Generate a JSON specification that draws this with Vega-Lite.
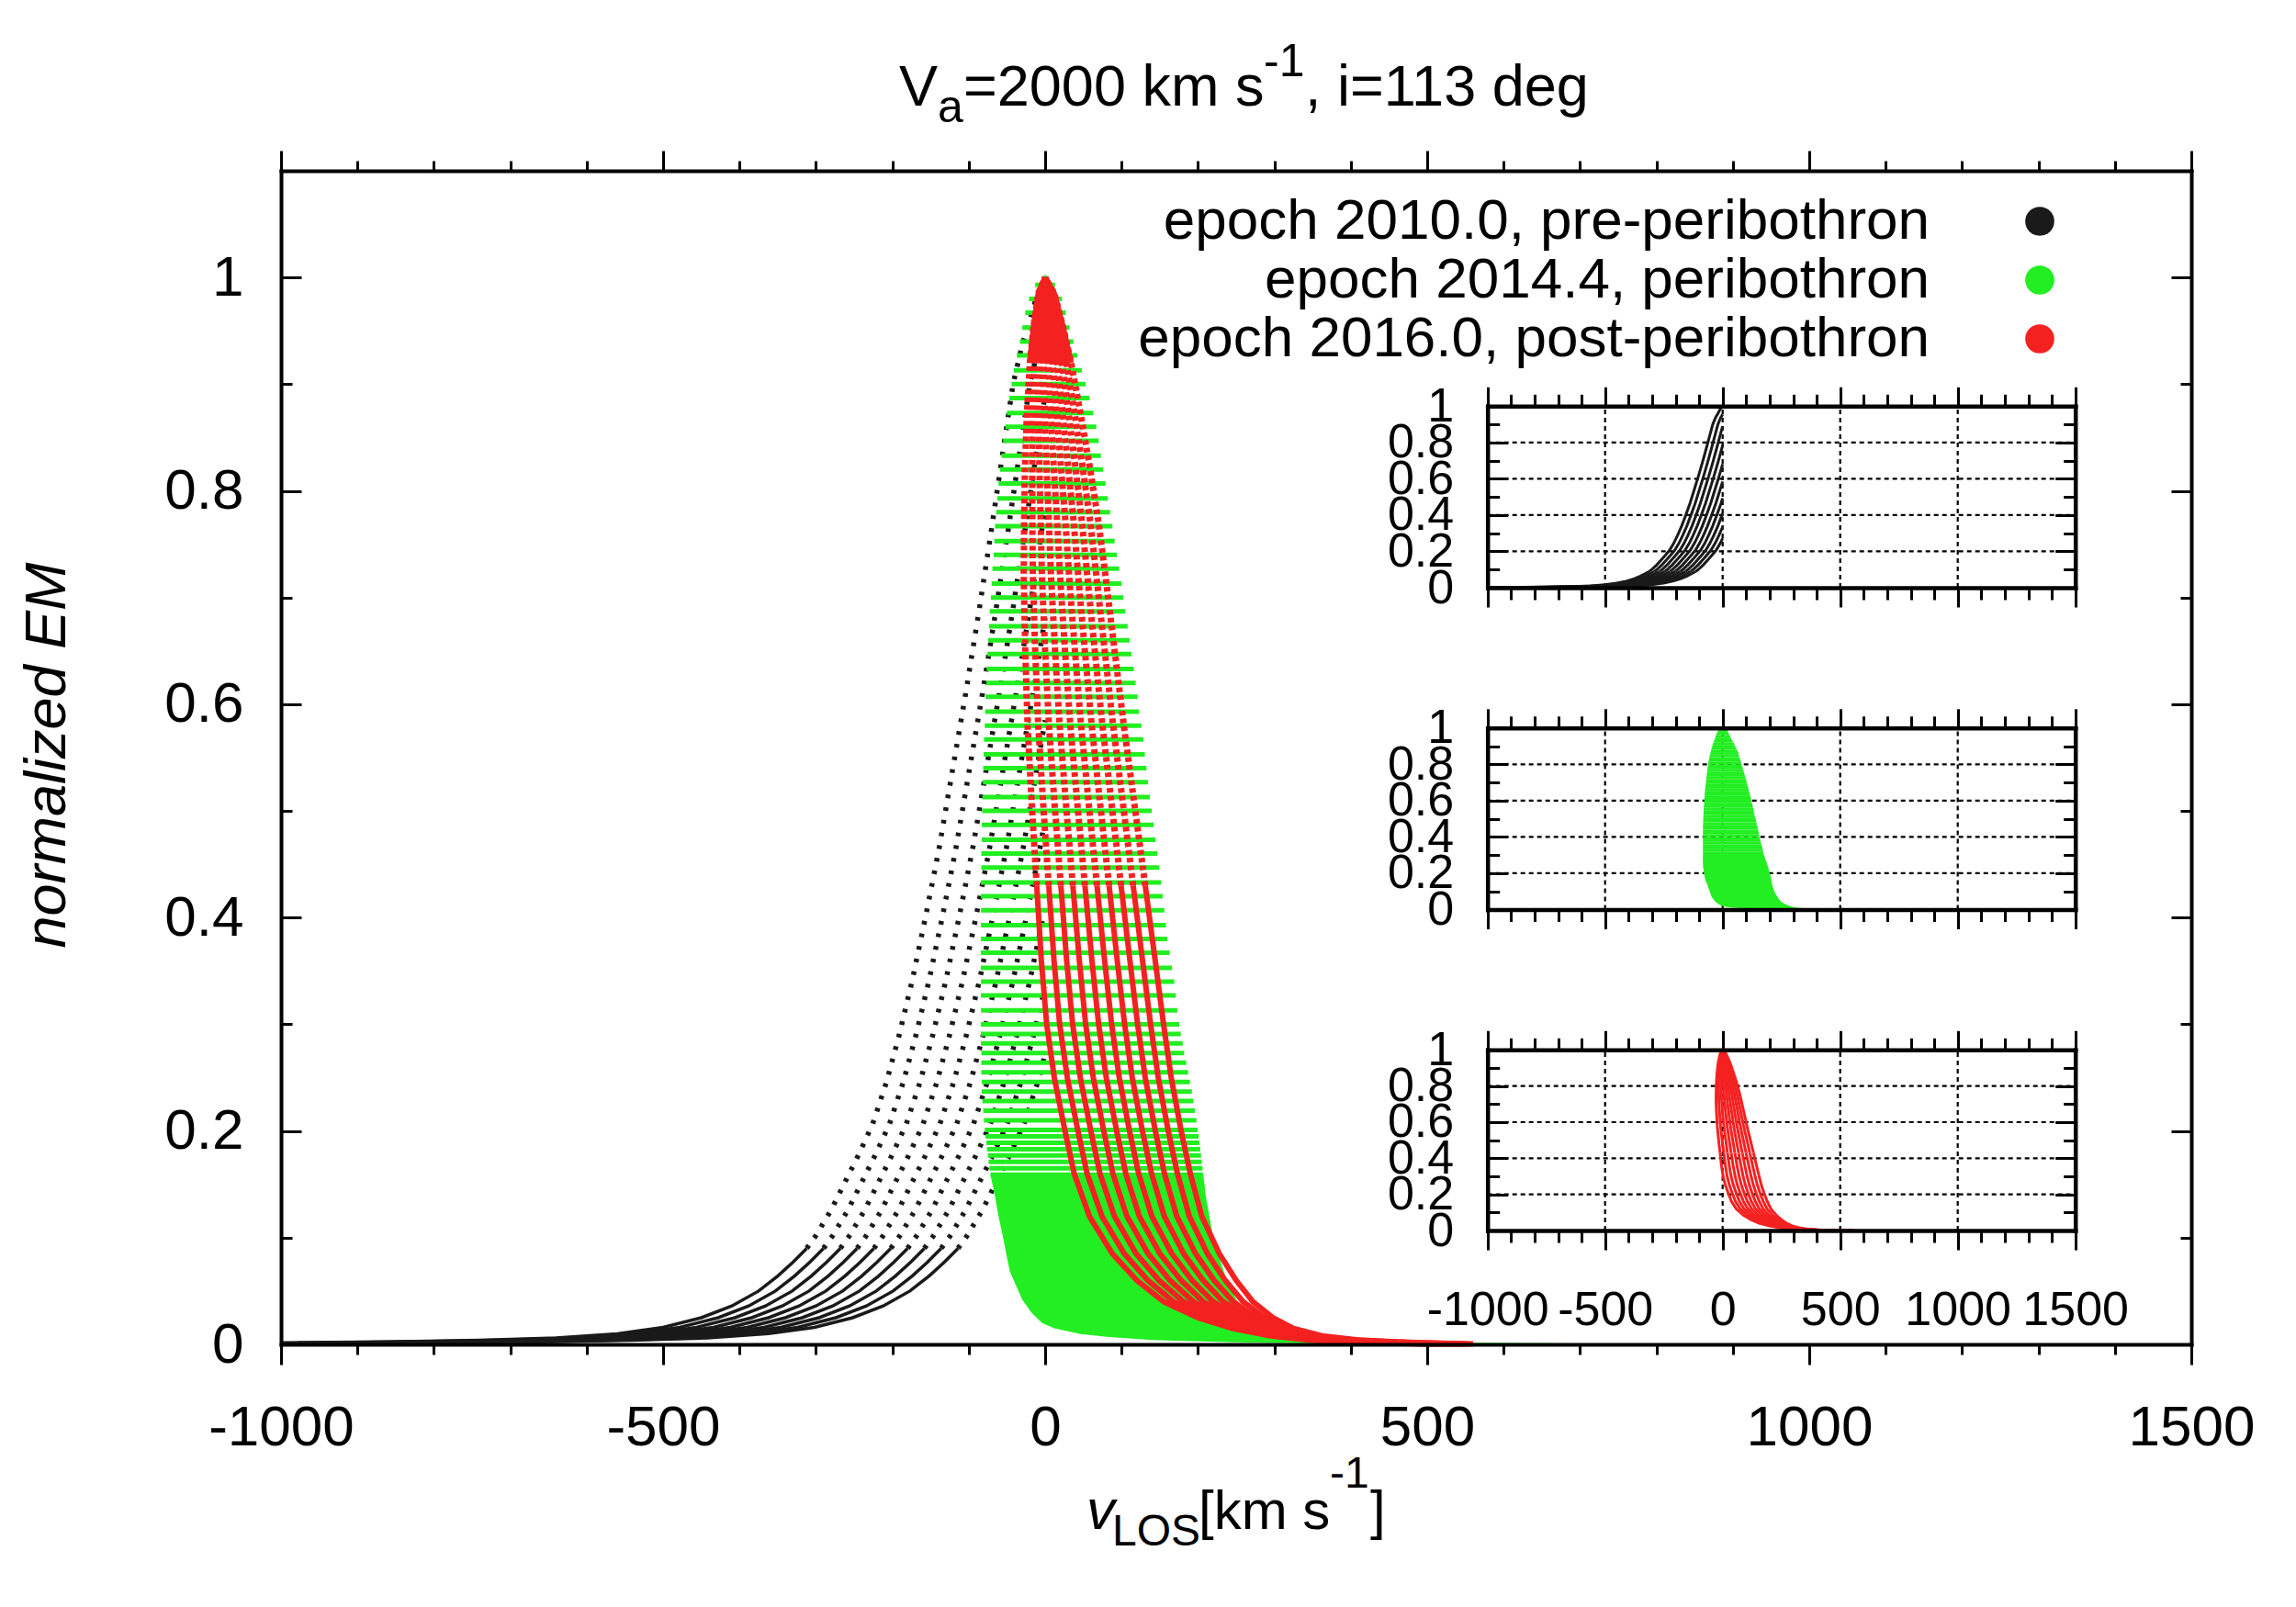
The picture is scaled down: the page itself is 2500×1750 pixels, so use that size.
{
  "$schema": "https://vega.github.io/schema/vega-lite/v6.json",
  "width": 2080,
  "height": 1278,
  "autosize": {"type": "none"},
  "padding": {"left": 306, "top": 186, "right": 114, "bottom": 286},
  "background": "white",
  "config": {
    "font": "Liberation Sans",
    "view": {"stroke": null},
    "axis": {"labelFont": "Liberation Sans", "labelColor": "black", "tickColor": "black", "domainColor": "black", "titleColor": "black", "titleFont": "Liberation Sans", "grid": false, "labelFlush": false, "labelOverlap": false, "labelBound": false, "domainCap": "square"}
  },
  "datasets": {
    "black": [
      {"c":0,"x":0,"y":1},{"c":0,"x":-10,"y":0.985},{"c":0,"x":-20,"y":0.96},{"c":0,"x":-30,"y":0.937},{"c":0,"x":-42,"y":0.9},{"c":0,"x":-55,"y":0.838},{"c":0,"x":-70,"y":0.765},{"c":0,"x":-86,"y":0.69},{"c":0,"x":-104,"y":0.61},{"c":0,"x":-122,"y":0.535},{"c":0,"x":-139,"y":0.464},{"c":0,"x":-157,"y":0.399},{"c":0,"x":-174,"y":0.341},{"c":0,"x":-191,"y":0.29},{"c":0,"x":-208,"y":0.245},{"c":0,"x":-226,"y":0.206},{"c":0,"x":-244,"y":0.178},{"c":0,"x":-262,"y":0.152},{"c":0,"x":-280,"y":0.126},{"c":0,"x":-300,"y":0.102},{"c":0,"x":-312,"y":0.09},{"c":0,"x":-330,"y":0.077},{"c":0,"x":-350,"y":0.064},{"c":0,"x":-375,"y":0.05},{"c":0,"x":-410,"y":0.036},{"c":0,"x":-450,"y":0.025},{"c":0,"x":-500,"y":0.016},{"c":0,"x":-560,"y":0.01},{"c":0,"x":-640,"y":0.006},{"c":0,"x":-740,"y":0.0038},{"c":0,"x":-860,"y":0.0024},{"c":0,"x":-1000,"y":0.0015},
      {"c":1,"x":0,"y":0.955},{"c":1,"x":-8,"y":0.937},{"c":1,"x":-20,"y":0.9},{"c":1,"x":-33,"y":0.838},{"c":1,"x":-48,"y":0.765},{"c":1,"x":-64,"y":0.69},{"c":1,"x":-82,"y":0.61},{"c":1,"x":-100,"y":0.535},{"c":1,"x":-117,"y":0.464},{"c":1,"x":-135,"y":0.399},{"c":1,"x":-152,"y":0.341},{"c":1,"x":-169,"y":0.29},{"c":1,"x":-186,"y":0.245},{"c":1,"x":-204,"y":0.206},{"c":1,"x":-222,"y":0.178},{"c":1,"x":-240,"y":0.152},{"c":1,"x":-258,"y":0.126},{"c":1,"x":-278,"y":0.102},{"c":1,"x":-290,"y":0.09},{"c":1,"x":-308,"y":0.077},{"c":1,"x":-328,"y":0.064},{"c":1,"x":-353,"y":0.05},{"c":1,"x":-388,"y":0.036},{"c":1,"x":-428,"y":0.025},{"c":1,"x":-478,"y":0.016},{"c":1,"x":-538,"y":0.01},{"c":1,"x":-618,"y":0.006},{"c":1,"x":-718,"y":0.0038},{"c":1,"x":-838,"y":0.0024},{"c":1,"x":-978,"y":0.0015},
      {"c":2,"x":0,"y":0.89},{"c":2,"x":-11,"y":0.838},{"c":2,"x":-26,"y":0.765},{"c":2,"x":-42,"y":0.69},{"c":2,"x":-60,"y":0.61},{"c":2,"x":-78,"y":0.535},{"c":2,"x":-95,"y":0.464},{"c":2,"x":-113,"y":0.399},{"c":2,"x":-130,"y":0.341},{"c":2,"x":-147,"y":0.29},{"c":2,"x":-164,"y":0.245},{"c":2,"x":-182,"y":0.206},{"c":2,"x":-200,"y":0.178},{"c":2,"x":-218,"y":0.152},{"c":2,"x":-236,"y":0.126},{"c":2,"x":-256,"y":0.102},{"c":2,"x":-268,"y":0.09},{"c":2,"x":-286,"y":0.077},{"c":2,"x":-306,"y":0.064},{"c":2,"x":-331,"y":0.05},{"c":2,"x":-366,"y":0.036},{"c":2,"x":-406,"y":0.025},{"c":2,"x":-456,"y":0.016},{"c":2,"x":-516,"y":0.01},{"c":2,"x":-596,"y":0.006},{"c":2,"x":-696,"y":0.0038},{"c":2,"x":-816,"y":0.0024},{"c":2,"x":-956,"y":0.0015},
      {"c":3,"x":0,"y":0.784},{"c":3,"x":-4,"y":0.765},{"c":3,"x":-20,"y":0.69},{"c":3,"x":-38,"y":0.61},{"c":3,"x":-56,"y":0.535},{"c":3,"x":-73,"y":0.464},{"c":3,"x":-91,"y":0.399},{"c":3,"x":-108,"y":0.341},{"c":3,"x":-125,"y":0.29},{"c":3,"x":-142,"y":0.245},{"c":3,"x":-160,"y":0.206},{"c":3,"x":-178,"y":0.178},{"c":3,"x":-196,"y":0.152},{"c":3,"x":-214,"y":0.126},{"c":3,"x":-234,"y":0.102},{"c":3,"x":-246,"y":0.09},{"c":3,"x":-264,"y":0.077},{"c":3,"x":-284,"y":0.064},{"c":3,"x":-309,"y":0.05},{"c":3,"x":-344,"y":0.036},{"c":3,"x":-384,"y":0.025},{"c":3,"x":-434,"y":0.016},{"c":3,"x":-494,"y":0.01},{"c":3,"x":-574,"y":0.006},{"c":3,"x":-674,"y":0.0038},{"c":3,"x":-794,"y":0.0024},{"c":3,"x":-934,"y":0.0015},
      {"c":4,"x":0,"y":0.681},{"c":4,"x":-16,"y":0.61},{"c":4,"x":-34,"y":0.535},{"c":4,"x":-51,"y":0.464},{"c":4,"x":-69,"y":0.399},{"c":4,"x":-86,"y":0.341},{"c":4,"x":-103,"y":0.29},{"c":4,"x":-120,"y":0.245},{"c":4,"x":-138,"y":0.206},{"c":4,"x":-156,"y":0.178},{"c":4,"x":-174,"y":0.152},{"c":4,"x":-192,"y":0.126},{"c":4,"x":-212,"y":0.102},{"c":4,"x":-224,"y":0.09},{"c":4,"x":-242,"y":0.077},{"c":4,"x":-262,"y":0.064},{"c":4,"x":-287,"y":0.05},{"c":4,"x":-322,"y":0.036},{"c":4,"x":-362,"y":0.025},{"c":4,"x":-412,"y":0.016},{"c":4,"x":-472,"y":0.01},{"c":4,"x":-552,"y":0.006},{"c":4,"x":-652,"y":0.0038},{"c":4,"x":-772,"y":0.0024},{"c":4,"x":-912,"y":0.0015},
      {"c":5,"x":0,"y":0.585},{"c":5,"x":-12,"y":0.535},{"c":5,"x":-29,"y":0.464},{"c":5,"x":-47,"y":0.399},{"c":5,"x":-64,"y":0.341},{"c":5,"x":-81,"y":0.29},{"c":5,"x":-98,"y":0.245},{"c":5,"x":-116,"y":0.206},{"c":5,"x":-134,"y":0.178},{"c":5,"x":-152,"y":0.152},{"c":5,"x":-170,"y":0.126},{"c":5,"x":-190,"y":0.102},{"c":5,"x":-202,"y":0.09},{"c":5,"x":-220,"y":0.077},{"c":5,"x":-240,"y":0.064},{"c":5,"x":-265,"y":0.05},{"c":5,"x":-300,"y":0.036},{"c":5,"x":-340,"y":0.025},{"c":5,"x":-390,"y":0.016},{"c":5,"x":-450,"y":0.01},{"c":5,"x":-530,"y":0.006},{"c":5,"x":-630,"y":0.0038},{"c":5,"x":-750,"y":0.0024},{"c":5,"x":-890,"y":0.0015},
      {"c":6,"x":0,"y":0.493},{"c":6,"x":-7,"y":0.464},{"c":6,"x":-25,"y":0.399},{"c":6,"x":-42,"y":0.341},{"c":6,"x":-59,"y":0.29},{"c":6,"x":-76,"y":0.245},{"c":6,"x":-94,"y":0.206},{"c":6,"x":-112,"y":0.178},{"c":6,"x":-130,"y":0.152},{"c":6,"x":-148,"y":0.126},{"c":6,"x":-168,"y":0.102},{"c":6,"x":-180,"y":0.09},{"c":6,"x":-198,"y":0.077},{"c":6,"x":-218,"y":0.064},{"c":6,"x":-243,"y":0.05},{"c":6,"x":-278,"y":0.036},{"c":6,"x":-318,"y":0.025},{"c":6,"x":-368,"y":0.016},{"c":6,"x":-428,"y":0.01},{"c":6,"x":-508,"y":0.006},{"c":6,"x":-608,"y":0.0038},{"c":6,"x":-728,"y":0.0024},{"c":6,"x":-868,"y":0.0015},
      {"c":7,"x":0,"y":0.41},{"c":7,"x":-3,"y":0.399},{"c":7,"x":-20,"y":0.341},{"c":7,"x":-37,"y":0.29},{"c":7,"x":-54,"y":0.245},{"c":7,"x":-72,"y":0.206},{"c":7,"x":-90,"y":0.178},{"c":7,"x":-108,"y":0.152},{"c":7,"x":-126,"y":0.126},{"c":7,"x":-146,"y":0.102},{"c":7,"x":-158,"y":0.09},{"c":7,"x":-176,"y":0.077},{"c":7,"x":-196,"y":0.064},{"c":7,"x":-221,"y":0.05},{"c":7,"x":-256,"y":0.036},{"c":7,"x":-296,"y":0.025},{"c":7,"x":-346,"y":0.016},{"c":7,"x":-406,"y":0.01},{"c":7,"x":-486,"y":0.006},{"c":7,"x":-586,"y":0.0038},{"c":7,"x":-706,"y":0.0024},{"c":7,"x":-846,"y":0.0015},
      {"c":8,"x":0,"y":0.335},{"c":8,"x":-15,"y":0.29},{"c":8,"x":-32,"y":0.245},{"c":8,"x":-50,"y":0.206},{"c":8,"x":-68,"y":0.178},{"c":8,"x":-86,"y":0.152},{"c":8,"x":-104,"y":0.126},{"c":8,"x":-124,"y":0.102},{"c":8,"x":-136,"y":0.09},{"c":8,"x":-154,"y":0.077},{"c":8,"x":-174,"y":0.064},{"c":8,"x":-199,"y":0.05},{"c":8,"x":-234,"y":0.036},{"c":8,"x":-274,"y":0.025},{"c":8,"x":-324,"y":0.016},{"c":8,"x":-384,"y":0.01},{"c":8,"x":-464,"y":0.006},{"c":8,"x":-564,"y":0.0038},{"c":8,"x":-684,"y":0.0024},{"c":8,"x":-824,"y":0.0015},
      {"c":9,"x":0,"y":0.272},{"c":9,"x":-10,"y":0.245},{"c":9,"x":-28,"y":0.206},{"c":9,"x":-46,"y":0.178},{"c":9,"x":-64,"y":0.152},{"c":9,"x":-82,"y":0.126},{"c":9,"x":-102,"y":0.102},{"c":9,"x":-114,"y":0.09},{"c":9,"x":-132,"y":0.077},{"c":9,"x":-152,"y":0.064},{"c":9,"x":-177,"y":0.05},{"c":9,"x":-212,"y":0.036},{"c":9,"x":-252,"y":0.025},{"c":9,"x":-302,"y":0.016},{"c":9,"x":-362,"y":0.01},{"c":9,"x":-442,"y":0.006},{"c":9,"x":-542,"y":0.0038},{"c":9,"x":-662,"y":0.0024},{"c":9,"x":-802,"y":0.0015}
    ],
    "green": [
      {"y":1,"lo":-2,"hi":2},{"y":0.993,"lo":-13,"hi":13},{"y":0.98,"lo":-21,"hi":22},{"y":0.967,"lo":-26,"hi":27},{"y":0.953,"lo":-30,"hi":32},{"y":0.94,"lo":-33,"hi":37},{"y":0.927,"lo":-37,"hi":42},{"y":0.913,"lo":-41,"hi":48},{"y":0.9,"lo":-44,"hi":53},{"y":0.887,"lo":-47,"hi":58},{"y":0.873,"lo":-50,"hi":63},{"y":0.86,"lo":-52,"hi":67},{"y":0.847,"lo":-55,"hi":70},{"y":0.833,"lo":-57,"hi":73},{"y":0.82,"lo":-59,"hi":76},{"y":0.807,"lo":-61,"hi":79},{"y":0.793,"lo":-62.5,"hi":82},{"y":0.78,"lo":-64,"hi":85},{"y":0.767,"lo":-65.5,"hi":88},{"y":0.753,"lo":-66.5,"hi":91},{"y":0.74,"lo":-67.5,"hi":94},{"y":0.727,"lo":-69,"hi":97},{"y":0.713,"lo":-70,"hi":100},{"y":0.7,"lo":-71,"hi":102.5},{"y":0.687,"lo":-72.5,"hi":105},{"y":0.673,"lo":-73.5,"hi":108},{"y":0.66,"lo":-74.5,"hi":110.5},{"y":0.647,"lo":-75.5,"hi":113},{"y":0.633,"lo":-76.5,"hi":116},{"y":0.62,"lo":-77,"hi":118.5},{"y":0.607,"lo":-78,"hi":121},{"y":0.593,"lo":-78.5,"hi":123},{"y":0.58,"lo":-79,"hi":126},{"y":0.567,"lo":-80,"hi":128.5},{"y":0.553,"lo":-80.5,"hi":130.5},{"y":0.54,"lo":-81,"hi":132.5},{"y":0.527,"lo":-81.5,"hi":134.5},{"y":0.513,"lo":-82,"hi":137},{"y":0.5,"lo":-82.5,"hi":139.5},{"y":0.487,"lo":-83,"hi":142},{"y":0.473,"lo":-83,"hi":144.5},{"y":0.46,"lo":-83.5,"hi":147},{"y":0.447,"lo":-83.5,"hi":149.5},{"y":0.433,"lo":-84,"hi":152},{"y":0.42,"lo":-84,"hi":154},{"y":0.407,"lo":-84,"hi":156},{"y":0.393,"lo":-84,"hi":158},{"y":0.38,"lo":-84,"hi":160},{"y":0.367,"lo":-84,"hi":163},{"y":0.353,"lo":-84,"hi":166},{"y":0.34,"lo":-84,"hi":169},{"y":0.327,"lo":-84,"hi":171},{"y":0.313,"lo":-84,"hi":173},{"y":0.3,"lo":-84,"hi":175.5},{"y":0.291,"lo":-84,"hi":177.5},{"y":0.282,"lo":-84,"hi":180},{"y":0.273,"lo":-83.5,"hi":182},{"y":0.264,"lo":-83.5,"hi":184.5},{"y":0.255,"lo":-83.5,"hi":187},{"y":0.246,"lo":-83,"hi":189.5},{"y":0.237,"lo":-83,"hi":192},{"y":0.228,"lo":-82,"hi":194},{"y":0.219,"lo":-81,"hi":196},{"y":0.21,"lo":-80,"hi":198},{"y":0.201,"lo":-79,"hi":199.5},{"y":0.195,"lo":-78,"hi":201},{"y":0.189,"lo":-77,"hi":202},{"y":0.183,"lo":-76,"hi":203},{"y":0.177,"lo":-75,"hi":204},{"y":0.171,"lo":-74,"hi":205},{"y":0.165,"lo":-73,"hi":206},{"y":0.159,"lo":-71.5,"hi":207},{"y":0.15,"lo":-69,"hi":208.5},{"y":0.14,"lo":-66,"hi":210},{"y":0.12,"lo":-61,"hi":215},{"y":0.1,"lo":-55,"hi":220},{"y":0.085,"lo":-51,"hi":226},{"y":0.068,"lo":-46,"hi":234},{"y":0.055,"lo":-38,"hi":241},{"y":0.042,"lo":-30,"hi":250},{"y":0.03,"lo":-18,"hi":266},{"y":0.02,"lo":-4,"hi":285},{"y":0.015,"lo":12,"hi":296},{"y":0.01,"lo":45,"hi":318},{"y":0.007,"lo":80,"hi":340},{"y":0.004,"lo":140,"hi":380},{"y":0.002,"lo":250,"hi":470},{"y":0.0008,"lo":350,"hi":700},{"y":0.0003,"lo":420,"hi":790}
    ],
    "red": [
      {"c":0,"y":1,"x":0},{"c":0,"y":0.985,"x":-9},{"c":0,"y":0.955,"x":-15},{"c":0,"y":0.92,"x":-20},{"c":0,"y":0.87,"x":-24},{"c":0,"y":0.82,"x":-26.5},{"c":0,"y":0.77,"x":-27.5},{"c":0,"y":0.72,"x":-28},{"c":0,"y":0.65,"x":-26},{"c":0,"y":0.58,"x":-23},{"c":0,"y":0.5,"x":-17},{"c":0,"y":0.43,"x":-11},{"c":0,"y":0.36,"x":-5},{"c":0,"y":0.3,"x":2},{"c":0,"y":0.25,"x":12},{"c":0,"y":0.2,"x":26},{"c":0,"y":0.16,"x":38},{"c":0,"y":0.12,"x":58},{"c":0,"y":0.085,"x":88},{"c":0,"y":0.06,"x":120},{"c":0,"y":0.04,"x":155},{"c":0,"y":0.025,"x":200},{"c":0,"y":0.015,"x":245},{"c":0,"y":0.008,"x":295},{"c":0,"y":0.004,"x":345},{"c":0,"y":0.0015,"x":420},{"c":0,"y":0.0005,"x":500},
      {"c":1,"y":1,"x":0},{"c":1,"y":0.985,"x":-6.7},{"c":1,"y":0.955,"x":-10.8},{"c":1,"y":0.92,"x":-14},{"c":1,"y":0.87,"x":-16.1},{"c":1,"y":0.82,"x":-17},{"c":1,"y":0.77,"x":-16.7},{"c":1,"y":0.72,"x":-16.1},{"c":1,"y":0.65,"x":-13},{"c":1,"y":0.58,"x":-9},{"c":1,"y":0.5,"x":-2},{"c":1,"y":0.43,"x":4.8},{"c":1,"y":0.36,"x":11.6},{"c":1,"y":0.3,"x":19},{"c":1,"y":0.25,"x":29},{"c":1,"y":0.2,"x":42.9},{"c":1,"y":0.16,"x":54.9},{"c":1,"y":0.12,"x":74.3},{"c":1,"y":0.085,"x":103.6},{"c":1,"y":0.06,"x":134.4},{"c":1,"y":0.04,"x":168},{"c":1,"y":0.025,"x":210.9},{"c":1,"y":0.015,"x":253.9},{"c":1,"y":0.008,"x":302.4},{"c":1,"y":0.004,"x":352.2},{"c":1,"y":0.0015,"x":427.8},{"c":1,"y":0.0005,"x":506.7},
      {"c":2,"y":1,"x":0},{"c":2,"y":0.985,"x":-4.3},{"c":2,"y":0.955,"x":-6.6},{"c":2,"y":0.92,"x":-8},{"c":2,"y":0.87,"x":-8.2},{"c":2,"y":0.82,"x":-7.5},{"c":2,"y":0.77,"x":-5.8},{"c":2,"y":0.72,"x":-4.2},{"c":2,"y":0.65,"x":0},{"c":2,"y":0.58,"x":5},{"c":2,"y":0.5,"x":13},{"c":2,"y":0.43,"x":20.6},{"c":2,"y":0.36,"x":28.1},{"c":2,"y":0.3,"x":36},{"c":2,"y":0.25,"x":46},{"c":2,"y":0.2,"x":59.8},{"c":2,"y":0.16,"x":71.8},{"c":2,"y":0.12,"x":90.7},{"c":2,"y":0.085,"x":119.1},{"c":2,"y":0.06,"x":148.9},{"c":2,"y":0.04,"x":181},{"c":2,"y":0.025,"x":221.8},{"c":2,"y":0.015,"x":262.8},{"c":2,"y":0.008,"x":309.9},{"c":2,"y":0.004,"x":359.4},{"c":2,"y":0.0015,"x":435.6},{"c":2,"y":0.0005,"x":513.3},
      {"c":3,"y":1,"x":0},{"c":3,"y":0.985,"x":-2},{"c":3,"y":0.955,"x":-2.3},{"c":3,"y":0.92,"x":-2},{"c":3,"y":0.87,"x":-0.3},{"c":3,"y":0.82,"x":2},{"c":3,"y":0.77,"x":5},{"c":3,"y":0.72,"x":7.7},{"c":3,"y":0.65,"x":13},{"c":3,"y":0.58,"x":19},{"c":3,"y":0.5,"x":28},{"c":3,"y":0.43,"x":36.3},{"c":3,"y":0.36,"x":44.7},{"c":3,"y":0.3,"x":53},{"c":3,"y":0.25,"x":63},{"c":3,"y":0.2,"x":76.7},{"c":3,"y":0.16,"x":88.7},{"c":3,"y":0.12,"x":107},{"c":3,"y":0.085,"x":134.7},{"c":3,"y":0.06,"x":163.3},{"c":3,"y":0.04,"x":194},{"c":3,"y":0.025,"x":232.7},{"c":3,"y":0.015,"x":271.7},{"c":3,"y":0.008,"x":317.3},{"c":3,"y":0.004,"x":366.7},{"c":3,"y":0.0015,"x":443.3},{"c":3,"y":0.0005,"x":520},
      {"c":4,"y":1,"x":0},{"c":4,"y":0.985,"x":0.3},{"c":4,"y":0.955,"x":1.9},{"c":4,"y":0.92,"x":4},{"c":4,"y":0.87,"x":7.6},{"c":4,"y":0.82,"x":11.5},{"c":4,"y":0.77,"x":15.8},{"c":4,"y":0.72,"x":19.6},{"c":4,"y":0.65,"x":26},{"c":4,"y":0.58,"x":33},{"c":4,"y":0.5,"x":43},{"c":4,"y":0.43,"x":52.1},{"c":4,"y":0.36,"x":61.2},{"c":4,"y":0.3,"x":70},{"c":4,"y":0.25,"x":80},{"c":4,"y":0.2,"x":93.6},{"c":4,"y":0.16,"x":105.6},{"c":4,"y":0.12,"x":123.3},{"c":4,"y":0.085,"x":150.2},{"c":4,"y":0.06,"x":177.8},{"c":4,"y":0.04,"x":207},{"c":4,"y":0.025,"x":243.6},{"c":4,"y":0.015,"x":280.6},{"c":4,"y":0.008,"x":324.8},{"c":4,"y":0.004,"x":373.9},{"c":4,"y":0.0015,"x":451.1},{"c":4,"y":0.0005,"x":526.7},
      {"c":5,"y":1,"x":0},{"c":5,"y":0.985,"x":2.7},{"c":5,"y":0.955,"x":6.1},{"c":5,"y":0.92,"x":10},{"c":5,"y":0.87,"x":15.4},{"c":5,"y":0.82,"x":21},{"c":5,"y":0.77,"x":26.7},{"c":5,"y":0.72,"x":31.4},{"c":5,"y":0.65,"x":39},{"c":5,"y":0.58,"x":47},{"c":5,"y":0.5,"x":58},{"c":5,"y":0.43,"x":67.9},{"c":5,"y":0.36,"x":77.8},{"c":5,"y":0.3,"x":87},{"c":5,"y":0.25,"x":97},{"c":5,"y":0.2,"x":110.4},{"c":5,"y":0.16,"x":122.4},{"c":5,"y":0.12,"x":139.7},{"c":5,"y":0.085,"x":165.8},{"c":5,"y":0.06,"x":192.2},{"c":5,"y":0.04,"x":220},{"c":5,"y":0.025,"x":254.4},{"c":5,"y":0.015,"x":289.4},{"c":5,"y":0.008,"x":332.2},{"c":5,"y":0.004,"x":381.1},{"c":5,"y":0.0015,"x":458.9},{"c":5,"y":0.0005,"x":533.3},
      {"c":6,"y":1,"x":0},{"c":6,"y":0.985,"x":5},{"c":6,"y":0.955,"x":10.3},{"c":6,"y":0.92,"x":16},{"c":6,"y":0.87,"x":23.3},{"c":6,"y":0.82,"x":30.5},{"c":6,"y":0.77,"x":37.5},{"c":6,"y":0.72,"x":43.3},{"c":6,"y":0.65,"x":52},{"c":6,"y":0.58,"x":61},{"c":6,"y":0.5,"x":73},{"c":6,"y":0.43,"x":83.7},{"c":6,"y":0.36,"x":94.3},{"c":6,"y":0.3,"x":104},{"c":6,"y":0.25,"x":114},{"c":6,"y":0.2,"x":127.3},{"c":6,"y":0.16,"x":139.3},{"c":6,"y":0.12,"x":156},{"c":6,"y":0.085,"x":181.3},{"c":6,"y":0.06,"x":206.7},{"c":6,"y":0.04,"x":233},{"c":6,"y":0.025,"x":265.3},{"c":6,"y":0.015,"x":298.3},{"c":6,"y":0.008,"x":339.7},{"c":6,"y":0.004,"x":388.3},{"c":6,"y":0.0015,"x":466.7},{"c":6,"y":0.0005,"x":540},
      {"c":7,"y":1,"x":0},{"c":7,"y":0.985,"x":7.3},{"c":7,"y":0.955,"x":14.6},{"c":7,"y":0.92,"x":22},{"c":7,"y":0.87,"x":31.2},{"c":7,"y":0.82,"x":40},{"c":7,"y":0.77,"x":48.3},{"c":7,"y":0.72,"x":55.2},{"c":7,"y":0.65,"x":65},{"c":7,"y":0.58,"x":75},{"c":7,"y":0.5,"x":88},{"c":7,"y":0.43,"x":99.4},{"c":7,"y":0.36,"x":110.9},{"c":7,"y":0.3,"x":121},{"c":7,"y":0.25,"x":131},{"c":7,"y":0.2,"x":144.2},{"c":7,"y":0.16,"x":156.2},{"c":7,"y":0.12,"x":172.3},{"c":7,"y":0.085,"x":196.9},{"c":7,"y":0.06,"x":221.1},{"c":7,"y":0.04,"x":246},{"c":7,"y":0.025,"x":276.2},{"c":7,"y":0.015,"x":307.2},{"c":7,"y":0.008,"x":347.1},{"c":7,"y":0.004,"x":395.6},{"c":7,"y":0.0015,"x":474.4},{"c":7,"y":0.0005,"x":546.7},
      {"c":8,"y":1,"x":0},{"c":8,"y":0.985,"x":9.7},{"c":8,"y":0.955,"x":18.8},{"c":8,"y":0.92,"x":28},{"c":8,"y":0.87,"x":39.1},{"c":8,"y":0.82,"x":49.5},{"c":8,"y":0.77,"x":59.2},{"c":8,"y":0.72,"x":67.1},{"c":8,"y":0.65,"x":78},{"c":8,"y":0.58,"x":89},{"c":8,"y":0.5,"x":103},{"c":8,"y":0.43,"x":115.2},{"c":8,"y":0.36,"x":127.4},{"c":8,"y":0.3,"x":138},{"c":8,"y":0.25,"x":148},{"c":8,"y":0.2,"x":161.1},{"c":8,"y":0.16,"x":173.1},{"c":8,"y":0.12,"x":188.7},{"c":8,"y":0.085,"x":212.4},{"c":8,"y":0.06,"x":235.6},{"c":8,"y":0.04,"x":259},{"c":8,"y":0.025,"x":287.1},{"c":8,"y":0.015,"x":316.1},{"c":8,"y":0.008,"x":354.6},{"c":8,"y":0.004,"x":402.8},{"c":8,"y":0.0015,"x":482.2},{"c":8,"y":0.0005,"x":553.3},
      {"c":9,"y":1,"x":0},{"c":9,"y":0.985,"x":12},{"c":9,"y":0.955,"x":23},{"c":9,"y":0.92,"x":34},{"c":9,"y":0.87,"x":47},{"c":9,"y":0.82,"x":59},{"c":9,"y":0.77,"x":70},{"c":9,"y":0.72,"x":79},{"c":9,"y":0.65,"x":91},{"c":9,"y":0.58,"x":103},{"c":9,"y":0.5,"x":118},{"c":9,"y":0.43,"x":131},{"c":9,"y":0.36,"x":144},{"c":9,"y":0.3,"x":155},{"c":9,"y":0.25,"x":165},{"c":9,"y":0.2,"x":178},{"c":9,"y":0.16,"x":190},{"c":9,"y":0.12,"x":205},{"c":9,"y":0.085,"x":228},{"c":9,"y":0.06,"x":250},{"c":9,"y":0.04,"x":272},{"c":9,"y":0.025,"x":298},{"c":9,"y":0.015,"x":325},{"c":9,"y":0.008,"x":362},{"c":9,"y":0.004,"x":410},{"c":9,"y":0.0015,"x":490},{"c":9,"y":0.0005,"x":560}
    ],
    "gx": [{"v":-500},{"v":0},{"v":500},{"v":1000}],
    "gy": [{"v":0.2},{"v":0.4},{"v":0.6},{"v":0.8}]
  },
  "layer": [
    {
      "layer": [
        {
          "data": {"name": "black"},
          "transform": [{"filter": "datum.y <= 0.09"}],
          "mark": {"type": "line", "color": "#1a1a1a", "strokeWidth": 3.5},
          "encoding": {
            "x": {"field": "x", "type": "quantitative", "scale": {"domain": [-1000, 1500], "nice": false, "zero": false},
              "axis": {"orient": "bottom", "values": [-1000, -500, 0, 500, 1000, 1500], "tickSize": 22, "tickWidth": 3, "domainWidth": 4, "labelFontSize": 62, "labelPadding": 38, "labelExpr": "datum.value < 0 ? '-' + abs(datum.value) : '' + datum.value", "title": null, "zindex": 1}},
            "y": {"field": "y", "type": "quantitative", "scale": {"domain": [0, 1.1], "nice": false, "zero": false},
              "axis": {"orient": "left", "values": [0, 0.2, 0.4, 0.6, 0.8, 1], "tickSize": -22, "tickWidth": 3, "domainWidth": 4, "labelFontSize": 62, "labelPadding": 63, "format": "~g", "title": "normalized EM", "titleFontSize": 63, "titleFontStyle": "italic", "titleFontWeight": "normal", "titleX": -236, "titleY": 636, "titleAngle": 270, "titleAlign": "center", "titleBaseline": "alphabetic", "zindex": 1}},
            "detail": {"field": "c", "type": "nominal"}
          }
        },
        {
          "data": {"name": "black"},
          "transform": [{"filter": "datum.y >= 0.09"}],
          "mark": {"type": "line", "color": "#1a1a1a", "strokeWidth": 5.5, "strokeDash": [4, 10]},
          "encoding": {
            "x": {"field": "x", "type": "quantitative", "scale": {"domain": [-1000, 1500], "nice": false, "zero": false},
              "axis": {"orient": "bottom", "values": [-900, -800, -700, -600, -400, -300, -200, -100, 100, 200, 300, 400, 600, 700, 800, 900, 1100, 1200, 1300, 1400], "tickSize": 11, "tickWidth": 3, "domain": false, "labels": false, "title": null, "zindex": 1}},
            "y": {"field": "y", "type": "quantitative", "scale": {"domain": [0, 1.1], "nice": false, "zero": false},
              "axis": {"orient": "left", "values": [0.1, 0.3, 0.5, 0.7, 0.9], "tickSize": -12, "tickWidth": 3, "domain": false, "labels": false, "title": null, "zindex": 1}},
            "detail": {"field": "c", "type": "nominal"}
          }
        },
        {
          "data": {"name": "green"},
          "transform": [{"filter": "datum.y <= 0.16"}],
          "mark": {"type": "area", "orient": "horizontal", "color": "#22ee22"},
          "encoding": {
            "y": {"field": "y", "type": "quantitative", "scale": {"domain": [0, 1.1], "nice": false, "zero": false},
              "axis": {"orient": "right", "values": [0, 0.2, 0.4, 0.6, 0.8, 1], "tickSize": -22, "tickWidth": 3, "domainWidth": 4, "labels": false, "title": null, "zindex": 1}},
            "x": {"field": "lo", "type": "quantitative", "scale": {"domain": [-1000, 1500], "nice": false, "zero": false},
              "axis": {"orient": "top", "values": [-1000, -500, 0, 500, 1000, 1500], "tickSize": 22, "tickWidth": 3, "domainWidth": 4, "labels": false, "title": null, "zindex": 1}},
            "x2": {"field": "hi"}
          }
        },
        {
          "data": {"name": "green"},
          "transform": [{"filter": "datum.y >= 0.159"}],
          "mark": {"type": "rule", "color": "#22ee22", "strokeWidth": 5},
          "encoding": {
            "y": {"field": "y", "type": "quantitative", "scale": {"domain": [0, 1.1], "nice": false, "zero": false},
              "axis": {"orient": "right", "values": [0.1, 0.3, 0.5, 0.7, 0.9], "tickSize": -12, "tickWidth": 3, "domain": false, "labels": false, "title": null, "zindex": 1}},
            "x": {"field": "lo", "type": "quantitative", "scale": {"domain": [-1000, 1500], "nice": false, "zero": false},
              "axis": {"orient": "top", "values": [-900, -800, -700, -600, -400, -300, -200, -100, 100, 200, 300, 400, 600, 700, 800, 900, 1100, 1200, 1300, 1400], "tickSize": 11, "tickWidth": 3, "domain": false, "labels": false, "title": null, "zindex": 1}},
            "x2": {"field": "hi"}
          }
        },
        {
          "data": {"name": "red"},
          "transform": [{"filter": "datum.y <= 0.43"}],
          "mark": {"type": "line", "color": "#f42121", "strokeWidth": 6},
          "encoding": {
            "x": {"field": "x", "type": "quantitative", "axis": null},
            "y": {"field": "y", "type": "quantitative", "axis": null},
            "detail": {"field": "c", "type": "nominal"},
            "order": {"field": "y", "type": "quantitative"}
          }
        },
        {
          "data": {"name": "red"},
          "transform": [{"filter": "datum.y >= 0.43"}],
          "mark": {"type": "line", "color": "#f42121", "strokeWidth": 7, "strokeDash": [5, 3.5]},
          "encoding": {
            "x": {"field": "x", "type": "quantitative", "axis": null},
            "y": {"field": "y", "type": "quantitative", "axis": null},
            "detail": {"field": "c", "type": "nominal"},
            "order": {"field": "y", "type": "quantitative"}
          }
        },
        {
          "data": {"name": "red"},
          "transform": [{"filter": "datum.y >= 0.92"}],
          "mark": {"type": "line", "color": "#f42121", "strokeWidth": 6},
          "encoding": {
            "x": {"field": "x", "type": "quantitative", "axis": null},
            "y": {"field": "y", "type": "quantitative", "axis": null},
            "detail": {"field": "c", "type": "nominal"},
            "order": {"field": "y", "type": "quantitative"}
          }
        },
        {
          "data": {"values": [{"e": "epoch 2010.0, pre-peribothron"}, {"e": "epoch 2014.4, peribothron"}, {"e": "epoch 2016.0, post-peribothron"}]},
          "transform": [{"filter": "false"}],
          "mark": {"type": "point", "filled": true, "opacity": 1},
          "encoding": {
            "color": {"field": "e", "type": "nominal",
              "scale": {"domain": ["epoch 2010.0, pre-peribothron", "epoch 2014.4, peribothron", "epoch 2016.0, post-peribothron"], "range": ["#1a1a1a", "#22ee22", "#f42121"]},
              "legend": {"orient": "none", "legendX": 1884, "legendY": 24, "title": null, "labelAlign": "right", "labelOffset": -151, "labelFontSize": 62, "labelFont": "Liberation Sans", "labelColor": "black", "symbolSize": 1000, "symbolType": "circle", "symbolStrokeWidth": 0, "symbolOpacity": 1, "rowPadding": 2, "labelLimit": 2000, "padding": 0}}
          }
        },
        {"data": {"values": [{}]}, "mark": {"type": "text", "text": "V", "fontSize": 63, "align": "left", "baseline": "alphabetic"}, "encoding": {"x": {"datum": -191.1, "type": "quantitative", "axis": null}, "y": {"datum": 1.1611, "type": "quantitative", "axis": null}}},
        {"data": {"values": [{}]}, "mark": {"type": "text", "text": "a", "fontSize": 50, "align": "left", "baseline": "alphabetic"}, "encoding": {"x": {"datum": -140.6, "type": "quantitative", "axis": null}, "y": {"datum": 1.1456, "type": "quantitative", "axis": null}}},
        {"data": {"values": [{}]}, "mark": {"type": "text", "text": "=2000 km s", "fontSize": 63, "align": "left", "baseline": "alphabetic"}, "encoding": {"x": {"datum": -107, "type": "quantitative", "axis": null}, "y": {"datum": 1.1611, "type": "quantitative", "axis": null}}},
        {"data": {"values": [{}]}, "mark": {"type": "text", "text": "-1", "fontSize": 50, "align": "left", "baseline": "alphabetic"}, "encoding": {"x": {"datum": 286.1, "type": "quantitative", "axis": null}, "y": {"datum": 1.1886, "type": "quantitative", "axis": null}}},
        {"data": {"values": [{}]}, "mark": {"type": "text", "text": ", i=113 deg", "fontSize": 63, "align": "left", "baseline": "alphabetic"}, "encoding": {"x": {"datum": 340.1, "type": "quantitative", "axis": null}, "y": {"datum": 1.1611, "type": "quantitative", "axis": null}}},
        {"data": {"values": [{}]}, "mark": {"type": "text", "text": "v", "fontSize": 62, "fontStyle": "italic", "align": "left", "baseline": "alphabetic"}, "encoding": {"x": {"datum": 54.1, "type": "quantitative", "axis": null}, "y": {"datum": -0.173, "type": "quantitative", "axis": null}}},
        {"data": {"values": [{}]}, "mark": {"type": "text", "text": "LOS", "fontSize": 48, "align": "left", "baseline": "alphabetic"}, "encoding": {"x": {"datum": 87.7, "type": "quantitative", "axis": null}, "y": {"datum": -0.1885, "type": "quantitative", "axis": null}}},
        {"data": {"values": [{}]}, "mark": {"type": "text", "text": "[km s", "fontSize": 60, "align": "left", "baseline": "alphabetic"}, "encoding": {"x": {"datum": 200.7, "type": "quantitative", "axis": null}, "y": {"datum": -0.173, "type": "quantitative", "axis": null}}},
        {"data": {"values": [{}]}, "mark": {"type": "text", "text": "-1", "fontSize": 48, "align": "left", "baseline": "alphabetic"}, "encoding": {"x": {"datum": 372.6, "type": "quantitative", "axis": null}, "y": {"datum": -0.1343, "type": "quantitative", "axis": null}}},
        {"data": {"values": [{}]}, "mark": {"type": "text", "text": "]", "fontSize": 60, "align": "left", "baseline": "alphabetic"}, "encoding": {"x": {"datum": 425.5, "type": "quantitative", "axis": null}, "y": {"datum": -0.173, "type": "quantitative", "axis": null}}}
      ],
      "resolve": {"axis": {"x": "independent", "y": "independent"}}
    },
    {
      "layer": [
        {
          "data": {"name": "gx"},
          "mark": {"type": "rule", "color": "black", "strokeWidth": 2.2, "strokeDash": [5, 4]},
          "encoding": {
            "x": {"field": "v", "type": "quantitative", "scale": {"domain": [-1000, 1500], "range": [1313.7, 1953.7], "nice": false, "zero": false},
              "axis": {"orient": "bottom", "offset": -824, "values": [-1000, -500, 0, 500, 1000, 1500], "tickSize": 21, "tickWidth": 3, "domainWidth": 4.5, "labels": false, "title": null, "zindex": 1}},
            "y": {"datum": 0, "type": "quantitative", "scale": {"domain": [0, 1], "range": [454, 256.3], "nice": false, "zero": false},
              "axis": {"orient": "left", "offset": -1313.7, "values": [0, 0.2, 0.4, 0.6, 0.8, 1], "tickSize": -22, "tickWidth": 3, "domainWidth": 4.5, "labelFontSize": 52, "labelPadding": 59, "format": "~g", "title": null, "zindex": 1}},
            "y2": {"datum": 1}
          }
        },
        {
          "data": {"name": "gy"},
          "mark": {"type": "rule", "color": "black", "strokeWidth": 2.2, "strokeDash": [5, 4]},
          "encoding": {
            "y": {"field": "v", "type": "quantitative", "scale": {"domain": [0, 1], "range": [454, 256.3], "nice": false, "zero": false},
              "axis": {"orient": "left", "offset": -1313.7, "values": [0.1, 0.3, 0.5, 0.7, 0.9], "tickSize": -13, "tickWidth": 3, "domain": false, "labels": false, "title": null, "zindex": 1}},
            "x": {"datum": -1000, "type": "quantitative", "scale": {"domain": [-1000, 1500], "range": [1313.7, 1953.7], "nice": false, "zero": false},
              "axis": {"orient": "bottom", "offset": -824, "values": [-900, -800, -700, -600, -400, -300, -200, -100, 100, 200, 300, 400, 600, 700, 800, 900, 1100, 1200, 1300, 1400], "tickSize": 13, "tickWidth": 3, "domain": false, "labels": false, "title": null, "zindex": 1}},
            "x2": {"datum": 1500}
          }
        },
        {
          "data": {"name": "black"},
          "transform": [{"filter": "datum.y <= 0.09"}],
          "mark": {"type": "line", "color": "#1a1a1a", "strokeWidth": 3},
          "encoding": {
            "x": {"field": "x", "type": "quantitative", "scale": {"domain": [-1000, 1500], "range": [1313.7, 1953.7], "nice": false, "zero": false},
              "axis": {"orient": "top", "offset": -256.3, "values": [-1000, -500, 0, 500, 1000, 1500], "tickSize": 21, "tickWidth": 3, "domainWidth": 4.5, "labels": false, "title": null, "zindex": 1}},
            "y": {"field": "y", "type": "quantitative", "scale": {"domain": [0, 1], "range": [454, 256.3], "nice": false, "zero": false},
              "axis": {"orient": "right", "offset": -126.3, "values": [0, 0.2, 0.4, 0.6, 0.8, 1], "tickSize": -22, "tickWidth": 3, "domainWidth": 4.5, "labels": false, "title": null, "zindex": 1}},
            "detail": {"field": "c", "type": "nominal"}
          }
        },
        {
          "data": {"name": "black"},
          "transform": [{"filter": "datum.y >= 0.09"}],
          "mark": {"type": "line", "color": "#1a1a1a", "strokeWidth": 3},
          "encoding": {
            "x": {"field": "x", "type": "quantitative", "scale": {"domain": [-1000, 1500], "range": [1313.7, 1953.7], "nice": false, "zero": false},
              "axis": {"orient": "top", "offset": -256.3, "values": [-900, -800, -700, -600, -400, -300, -200, -100, 100, 200, 300, 400, 600, 700, 800, 900, 1100, 1200, 1300, 1400], "tickSize": 13, "tickWidth": 3, "domain": false, "labels": false, "title": null, "zindex": 1}},
            "y": {"field": "y", "type": "quantitative", "scale": {"domain": [0, 1], "range": [454, 256.3], "nice": false, "zero": false},
              "axis": {"orient": "right", "offset": -126.3, "values": [0.1, 0.3, 0.5, 0.7, 0.9], "tickSize": -13, "tickWidth": 3, "domain": false, "labels": false, "title": null, "zindex": 1}},
            "detail": {"field": "c", "type": "nominal"}
          }
        }
      ],
      "resolve": {"axis": {"x": "independent", "y": "independent"}}
    },
    {
      "layer": [
        {
          "data": {"name": "gx"},
          "mark": {"type": "rule", "color": "black", "strokeWidth": 2.2, "strokeDash": [5, 4]},
          "encoding": {
            "x": {"field": "v", "type": "quantitative", "scale": {"domain": [-1000, 1500], "range": [1313.7, 1953.7], "nice": false, "zero": false},
              "axis": {"orient": "bottom", "offset": -473.5, "values": [-1000, -500, 0, 500, 1000, 1500], "tickSize": 21, "tickWidth": 3, "domainWidth": 4.5, "labels": false, "title": null, "zindex": 1}},
            "y": {"datum": 0, "type": "quantitative", "scale": {"domain": [0, 1], "range": [804.5, 606.8], "nice": false, "zero": false},
              "axis": {"orient": "left", "offset": -1313.7, "values": [0, 0.2, 0.4, 0.6, 0.8, 1], "tickSize": -22, "tickWidth": 3, "domainWidth": 4.5, "labelFontSize": 52, "labelPadding": 59, "format": "~g", "title": null, "zindex": 1}},
            "y2": {"datum": 1}
          }
        },
        {
          "data": {"name": "gy"},
          "mark": {"type": "rule", "color": "black", "strokeWidth": 2.2, "strokeDash": [5, 4]},
          "encoding": {
            "y": {"field": "v", "type": "quantitative", "scale": {"domain": [0, 1], "range": [804.5, 606.8], "nice": false, "zero": false},
              "axis": {"orient": "left", "offset": -1313.7, "values": [0.1, 0.3, 0.5, 0.7, 0.9], "tickSize": -13, "tickWidth": 3, "domain": false, "labels": false, "title": null, "zindex": 1}},
            "x": {"datum": -1000, "type": "quantitative", "scale": {"domain": [-1000, 1500], "range": [1313.7, 1953.7], "nice": false, "zero": false},
              "axis": {"orient": "bottom", "offset": -473.5, "values": [-900, -800, -700, -600, -400, -300, -200, -100, 100, 200, 300, 400, 600, 700, 800, 900, 1100, 1200, 1300, 1400], "tickSize": 13, "tickWidth": 3, "domain": false, "labels": false, "title": null, "zindex": 1}},
            "x2": {"datum": 1500}
          }
        },
        {
          "data": {"name": "green"},
          "transform": [{"filter": "datum.y <= 0.16"}],
          "mark": {"type": "area", "orient": "horizontal", "color": "#22ee22"},
          "encoding": {
            "y": {"field": "y", "type": "quantitative", "scale": {"domain": [0, 1], "range": [804.5, 606.8], "nice": false, "zero": false},
              "axis": {"orient": "right", "offset": -126.3, "values": [0, 0.2, 0.4, 0.6, 0.8, 1], "tickSize": -22, "tickWidth": 3, "domainWidth": 4.5, "labels": false, "title": null, "zindex": 1}},
            "x": {"field": "lo", "type": "quantitative", "scale": {"domain": [-1000, 1500], "range": [1313.7, 1953.7], "nice": false, "zero": false},
              "axis": {"orient": "top", "offset": -606.8, "values": [-1000, -500, 0, 500, 1000, 1500], "tickSize": 21, "tickWidth": 3, "domainWidth": 4.5, "labels": false, "title": null, "zindex": 1}},
            "x2": {"field": "hi"}
          }
        },
        {
          "data": {"name": "green"},
          "transform": [{"filter": "datum.y >= 0.159"}],
          "mark": {"type": "rule", "color": "#22ee22", "strokeWidth": 2.8},
          "encoding": {
            "y": {"field": "y", "type": "quantitative", "scale": {"domain": [0, 1], "range": [804.5, 606.8], "nice": false, "zero": false},
              "axis": {"orient": "right", "offset": -126.3, "values": [0.1, 0.3, 0.5, 0.7, 0.9], "tickSize": -13, "tickWidth": 3, "domain": false, "labels": false, "title": null, "zindex": 1}},
            "x": {"field": "lo", "type": "quantitative", "scale": {"domain": [-1000, 1500], "range": [1313.7, 1953.7], "nice": false, "zero": false},
              "axis": {"orient": "top", "offset": -606.8, "values": [-900, -800, -700, -600, -400, -300, -200, -100, 100, 200, 300, 400, 600, 700, 800, 900, 1100, 1200, 1300, 1400], "tickSize": 13, "tickWidth": 3, "domain": false, "labels": false, "title": null, "zindex": 1}},
            "x2": {"field": "hi"}
          }
        }
      ],
      "resolve": {"axis": {"x": "independent", "y": "independent"}}
    },
    {
      "layer": [
        {
          "data": {"name": "gx"},
          "mark": {"type": "rule", "color": "black", "strokeWidth": 2.2, "strokeDash": [5, 4]},
          "encoding": {
            "x": {"field": "v", "type": "quantitative", "scale": {"domain": [-1000, 1500], "range": [1313.7, 1953.7], "nice": false, "zero": false},
              "axis": {"orient": "bottom", "offset": -124, "values": [-1000, -500, 0, 500, 1000, 1500], "tickSize": 21, "tickWidth": 3, "domainWidth": 4.5, "labelFontSize": 52, "labelPadding": 40, "labelExpr": "datum.value < 0 ? '-' + abs(datum.value) : '' + datum.value", "title": null, "zindex": 1}},
            "y": {"datum": 0, "type": "quantitative", "scale": {"domain": [0, 1], "range": [1154, 957.3], "nice": false, "zero": false},
              "axis": {"orient": "left", "offset": -1313.7, "values": [0, 0.2, 0.4, 0.6, 0.8, 1], "tickSize": -22, "tickWidth": 3, "domainWidth": 4.5, "labelFontSize": 52, "labelPadding": 59, "format": "~g", "title": null, "zindex": 1}},
            "y2": {"datum": 1}
          }
        },
        {
          "data": {"name": "gy"},
          "mark": {"type": "rule", "color": "black", "strokeWidth": 2.2, "strokeDash": [5, 4]},
          "encoding": {
            "y": {"field": "v", "type": "quantitative", "scale": {"domain": [0, 1], "range": [1154, 957.3], "nice": false, "zero": false},
              "axis": {"orient": "left", "offset": -1313.7, "values": [0.1, 0.3, 0.5, 0.7, 0.9], "tickSize": -13, "tickWidth": 3, "domain": false, "labels": false, "title": null, "zindex": 1}},
            "x": {"datum": -1000, "type": "quantitative", "scale": {"domain": [-1000, 1500], "range": [1313.7, 1953.7], "nice": false, "zero": false},
              "axis": {"orient": "bottom", "offset": -124, "values": [-900, -800, -700, -600, -400, -300, -200, -100, 100, 200, 300, 400, 600, 700, 800, 900, 1100, 1200, 1300, 1400], "tickSize": 13, "tickWidth": 3, "domain": false, "labels": false, "title": null, "zindex": 1}},
            "x2": {"datum": 1500}
          }
        },
        {
          "data": {"name": "red"},
          "transform": [{"filter": "datum.y <= 0.43"}],
          "mark": {"type": "line", "color": "#f42121", "strokeWidth": 3},
          "encoding": {
            "x": {"field": "x", "type": "quantitative", "scale": {"domain": [-1000, 1500], "range": [1313.7, 1953.7], "nice": false, "zero": false},
              "axis": {"orient": "top", "offset": -957.3, "values": [-1000, -500, 0, 500, 1000, 1500], "tickSize": 21, "tickWidth": 3, "domainWidth": 4.5, "labels": false, "title": null, "zindex": 1}},
            "y": {"field": "y", "type": "quantitative", "scale": {"domain": [0, 1], "range": [1154, 957.3], "nice": false, "zero": false},
              "axis": {"orient": "right", "offset": -126.3, "values": [0, 0.2, 0.4, 0.6, 0.8, 1], "tickSize": -22, "tickWidth": 3, "domainWidth": 4.5, "labels": false, "title": null, "zindex": 1}},
            "detail": {"field": "c", "type": "nominal"},
            "order": {"field": "y", "type": "quantitative"}
          }
        },
        {
          "data": {"name": "red"},
          "transform": [{"filter": "datum.y >= 0.43"}],
          "mark": {"type": "line", "color": "#f42121", "strokeWidth": 3},
          "encoding": {
            "x": {"field": "x", "type": "quantitative", "scale": {"domain": [-1000, 1500], "range": [1313.7, 1953.7], "nice": false, "zero": false},
              "axis": {"orient": "top", "offset": -957.3, "values": [-900, -800, -700, -600, -400, -300, -200, -100, 100, 200, 300, 400, 600, 700, 800, 900, 1100, 1200, 1300, 1400], "tickSize": 13, "tickWidth": 3, "domain": false, "labels": false, "title": null, "zindex": 1}},
            "y": {"field": "y", "type": "quantitative", "scale": {"domain": [0, 1], "range": [1154, 957.3], "nice": false, "zero": false},
              "axis": {"orient": "right", "offset": -126.3, "values": [0.1, 0.3, 0.5, 0.7, 0.9], "tickSize": -13, "tickWidth": 3, "domain": false, "labels": false, "title": null, "zindex": 1}},
            "detail": {"field": "c", "type": "nominal"},
            "order": {"field": "y", "type": "quantitative"}
          }
        }
      ],
      "resolve": {"axis": {"x": "independent", "y": "independent"}}
    }
  ],
  "resolve": {"scale": {"x": "independent", "y": "independent"}, "axis": {"x": "independent", "y": "independent"}}
}
